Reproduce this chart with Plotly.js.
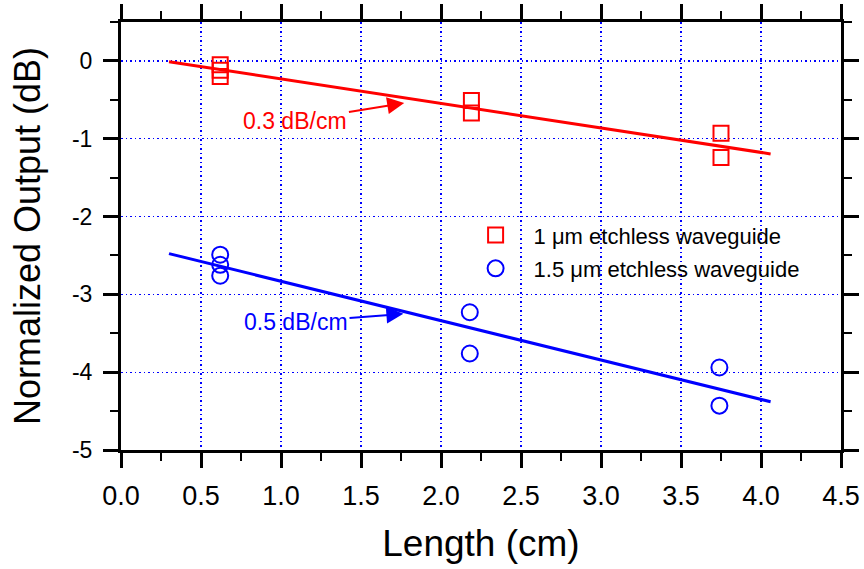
<!DOCTYPE html>
<html>
<head>
<meta charset="utf-8">
<script src="https://cdn.plot.ly/plotly-3.0.1.min.js"></script>
<style>html,body{margin:0;padding:0;background:#fff;}#chart{width:864px;height:569px;}</style>
</head>
<body>
<div id="chart"></div>
<script>
// ---- data ----
const redX = [0.62, 0.62, 0.62, 2.19, 2.19, 3.75, 3.75];
const redY = [-0.05, -0.12, -0.20, -0.51, -0.67, -0.93, -1.24];
const blueX = [0.62, 0.62, 0.62, 2.18, 2.18, 3.74, 3.74];
const blueY = [-2.49, -2.62, -2.76, -3.23, -3.76, -3.94, -4.43];
const fitX = [0.30, 4.06];
const redFitY = [-0.01, -1.195];
const blueFitY = [-2.477, -4.38];
const redName = '1 \u03bcm etchless waveguide';
const blueName = '1.5 \u03bcm etchless waveguide';
const redLabel = '0.3 dB/cm';
const blueLabel = '0.5 dB/cm';
const xTickVals = [0, 0.5, 1, 1.5, 2, 2.5, 3, 3.5, 4, 4.5];
const xTickText = ['0.0','0.5','1.0','1.5','2.0','2.5','3.0','3.5','4.0','4.5'];
const yTickVals = [0, -1, -2, -3, -4, -5];
const yTickText = ['0','-1','-2','-3','-4','-5'];

const FONT = '"Liberation Sans", Arial, sans-serif';
const RED = '#ff0000', BLUE = '#0000ff';

const traces = [
  {x: fitX, y: redFitY, mode: 'lines', line: {color: RED, width: 3}, showlegend: false, hoverinfo: 'skip'},
  {x: fitX, y: blueFitY, mode: 'lines', line: {color: BLUE, width: 3}, showlegend: false, hoverinfo: 'skip'},
  {x: redX, y: redY, mode: 'markers', name: redName, legend: 'legend',
   marker: {symbol: 'square-open', size: 15, color: RED, line: {width: 2, color: RED}}},
  {x: blueX, y: blueY, mode: 'markers', name: blueName, legend: 'legend2',
   marker: {symbol: 'circle-open', size: 16, color: BLUE, line: {width: 2, color: BLUE}}}
];

const axisCommon = {
  showline: true, linecolor: '#000', linewidth: 3, mirror: 'ticks',
  ticks: 'outside', ticklen: 15, tickwidth: 3, tickcolor: '#000',
  showgrid: true, gridcolor: BLUE, griddash: '1.5px,3px', gridwidth: 1.2,
  zeroline: false
};

const legendCommon = {
  xref: 'paper', yref: 'paper', xanchor: 'left', yanchor: 'middle',
  bgcolor: 'rgba(0,0,0,0)', borderwidth: 0,
  font: {family: FONT, size: 22, color: '#000'}, itemwidth: 66
};

const layout = {
  width: 864, height: 569,
  margin: {l: 121, r: 23, t: 22, b: 119},
  paper_bgcolor: '#fff', plot_bgcolor: '#fff',
  font: {family: FONT, color: '#000'},
  xaxis: Object.assign({}, axisCommon, {
    range: [0, 4.5], tickvals: xTickVals, ticktext: xTickText,
    tickfont: {family: FONT, size: 27, color: '#000'},
    ticklabelstandoff: 5,
    minor: {dtick: 0.25, ticks: 'outside', ticklen: 8, tickwidth: 2, tickcolor: '#000', showgrid: false},
    title: {text: 'Length (cm)', font: {family: FONT, size: 37, color: '#000'}, standoff: 20}
  }),
  yaxis: Object.assign({}, axisCommon, {
    range: [-5, 0.5], tickvals: yTickVals, ticktext: yTickText,
    tickfont: {family: FONT, size: 23, color: '#000'},
    ticklabelstandoff: 6,
    minor: {dtick: 0.5, ticks: 'outside', ticklen: 8, tickwidth: 2, tickcolor: '#000', showgrid: false},
    title: {text: 'Normalized Output (dB)', font: {family: FONT, size: 36, color: '#000'}, standoff: 21}
  }),
  legend: Object.assign({}, legendCommon, {x: 0.4675, y: 0.502}),
  legend2: Object.assign({}, legendCommon, {x: 0.4675, y: 0.424}),
  annotations: [
    {x: 1.77, y: -0.54, xref: 'x', yref: 'y', ax: 1.09, ay: -0.77, axref: 'x', ayref: 'y',
     text: redLabel, showarrow: true, arrowhead: 2, arrowsize: 1.7, arrowwidth: 2, arrowcolor: RED,
     font: {family: FONT, size: 23, color: RED}, standoff: 0},
    {x: 1.765, y: -3.25, xref: 'x', yref: 'y', ax: 1.094, ay: -3.355, axref: 'x', ayref: 'y',
     text: blueLabel, showarrow: true, arrowhead: 2, arrowsize: 1.7, arrowwidth: 2, arrowcolor: BLUE,
     font: {family: FONT, size: 23, color: BLUE}, standoff: 0}
  ]
};

Plotly.newPlot('chart', traces, layout, {displayModeBar: false, staticPlot: true});
</script>
</body>
</html>
